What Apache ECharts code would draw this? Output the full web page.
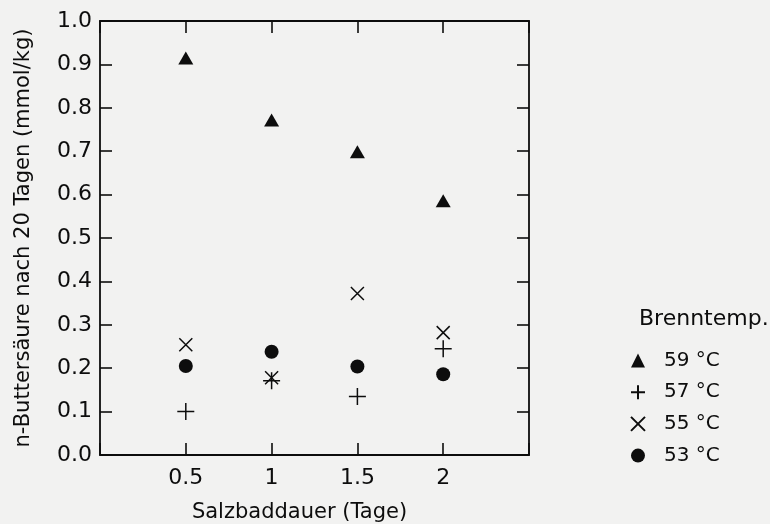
<!DOCTYPE html>
<html>
<head>
<meta charset="utf-8">
<script src="https://cdn.jsdelivr.net/npm/echarts@6/dist/echarts.min.js"></script>
<style>
    html, body { margin: 0; padding: 0; background: #f2f2f1; }
    #chart { width: 770px; height: 524px; }
</style>
</head>
<body>
<div id="chart"></div>
<script>
// Salzbaddauer (Tage)
var days = [0.5, 1, 1.5, 2];
// n-Buttersäure nach 20 Tagen (mmol/kg), je Brenntemperatur
var temp59 = [0.915, 0.772, 0.699, 0.586];
var temp57 = [0.100, 0.171, 0.135, 0.245];
var temp55 = [0.254, 0.178, 0.372, 0.282];
var temp53 = [0.205, 0.238, 0.204, 0.186];
var seriesNames = ['59 °C', '57 °C', '55 °C', '53 °C'];

var font = '"DejaVu Sans", "Liberation Sans", Arial, sans-serif';
var ink = '#0d0d0d';

function pairs(ys) {
    return days.map(function (d, i) { return [d, ys[i]]; });
}

var plusPath = 'path://M0,5 L10,5 M5,0 L5,10';
var crossPath = 'path://M0,0 L10,10 M10,0 L0,10';

// shared frame styles (mirrored axes on top/right carry ticks only)
var lineStyle = { color: ink, width: 1.8 };
var tickStyle = { show: true, inside: true, length: 12, lineStyle: { color: ink, width: 1.6 } };

var chart = echarts.init(document.getElementById('chart'));
var option = {
    backgroundColor: '#f2f2f1',
    animation: false,
    title: {
        text: 'Brenntemp.',
        left: 634,
        top: 303,
        textStyle: { fontFamily: font, fontSize: 22, fontWeight: 'normal', color: ink }
    },
    legend: {
        orient: 'vertical',
        left: 625,
        top: 345.5,
        itemWidth: 14,
        itemHeight: 14,
        itemGap: 11.7,
        data: seriesNames,
        textStyle: { fontFamily: font, fontSize: 20, color: ink, padding: [0, 0, 0, 14] }
    },
    grid: { left: 100, right: 241, top: 21, bottom: 69, outerBoundsMode: 'none' },
    xAxis: [{
        type: 'value',
        min: 0,
        max: 2.5,
        interval: 0.5,
        name: 'Salzbaddauer (Tage)',
        nameLocation: 'middle',
        nameGap: 47,
        nameTextStyle: { fontFamily: font, fontSize: 21, color: ink, padding: [0, 30, 0, 0] },
        axisLine: { onZero: false, lineStyle: lineStyle },
        axisTick: tickStyle,
        axisLabel: {
            fontFamily: font, fontSize: 22, color: ink, margin: 12,
            formatter: function (v) { return (v === 0 || v === 2.5) ? '' : String(v); }
        },
        splitLine: { show: false }
    }, {
        type: 'value',
        position: 'top',
        min: 0,
        max: 2.5,
        interval: 0.5,
        axisLine: { onZero: false, lineStyle: lineStyle },
        axisTick: tickStyle,
        axisLabel: { show: false },
        splitLine: { show: false }
    }],
    yAxis: [{
        type: 'value',
        min: 0,
        max: 1,
        interval: 0.1,
        name: 'n-Buttersäure nach 20 Tagen (mmol/kg)',
        nameLocation: 'middle',
        nameGap: 66,
        nameTextStyle: { fontFamily: font, fontSize: 21, color: ink },
        axisLine: { show: true, onZero: false, lineStyle: lineStyle },
        axisTick: tickStyle,
        axisLabel: {
            fontFamily: font, fontSize: 22, color: ink, margin: 8,
            formatter: function (v) { return v.toFixed(1); }
        },
        splitLine: { show: false }
    }, {
        type: 'value',
        position: 'right',
        min: 0,
        max: 1,
        interval: 0.1,
        axisLine: { show: true, onZero: false, lineStyle: lineStyle },
        axisTick: tickStyle,
        axisLabel: { show: false },
        splitLine: { show: false }
    }],
    series: [{
        name: seriesNames[0],
        type: 'scatter',
        symbol: 'triangle',
        symbolSize: [15, 13],
        itemStyle: { color: ink, opacity: 1 },
        data: pairs(temp59)
    }, {
        name: seriesNames[1],
        type: 'scatter',
        symbol: plusPath,
        symbolSize: 17,
        itemStyle: { color: 'rgba(0,0,0,0)', borderColor: ink, borderWidth: 1.5, opacity: 1 },
        data: pairs(temp57)
    }, {
        name: seriesNames[2],
        type: 'scatter',
        symbol: crossPath,
        symbolSize: 13,
        itemStyle: { color: 'rgba(0,0,0,0)', borderColor: ink, borderWidth: 1.5, opacity: 1 },
        data: pairs(temp55)
    }, {
        name: seriesNames[3],
        type: 'scatter',
        symbol: 'circle',
        symbolSize: 14,
        itemStyle: { color: ink, opacity: 1 },
        data: pairs(temp53)
    }]
};
chart.setOption(option);
</script>
</body>
</html>
